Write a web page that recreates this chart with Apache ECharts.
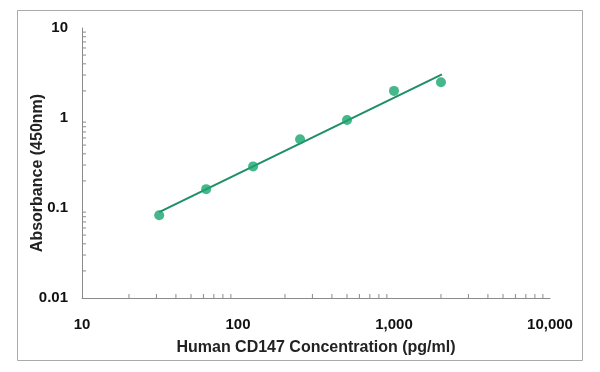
<!DOCTYPE html>
<html><head><meta charset="utf-8">
<script src="https://cdn.jsdelivr.net/npm/echarts@6/dist/echarts.min.js"></script>
<style>html,body{margin:0;padding:0;background:#fff}#c{width:600px;height:372px}</style>
</head><body><div id="c"></div>
<script>
const concentrations = [31.25, 62.5, 125, 250, 500, 1000, 2000];
const absorbance = [0.083, 0.162, 0.29, 0.58, 0.95, 2.0, 2.5];
const fitX = [31.25, 2030];
const fitY = [0.09, 3.05];
const xTickLabels = {10: '10', 100: '100', 1000: '1,000', 10000: '10,000'};
const yTickLabels = {0.01: '0.01', 0.1: '0.1', 1: '1', 10: '10'};
const xMinor = [20,30,40,50,60,70,80,90,200,300,400,500,600,700,800,900,2000,3000,4000,5000,6000,7000,8000,9000];
const yMinor = [0.02,0.03,0.04,0.05,0.06,0.07,0.08,0.09,0.2,0.3,0.4,0.5,0.6,0.7,0.8,0.9,2,3,4,5,6,7,8,9];

const green = '#17a56e';
const lineGreen = '#1e8e66';
const axisColor = '#8a8a8a';
const font = 'Arial, "Liberation Sans", sans-serif';

const chart = echarts.init(document.getElementById('c'), null, {renderer: 'canvas'});
chart.setOption({
  animation: false,
  backgroundColor: '#fff',
  grid: {left: 82, right: 50, top: 28, bottom: 74},
  graphic: [{type: 'rect', shape: {x: 17.5, y: 10.5, width: 565, height: 350}, style: {fill: 'none', stroke: '#aaa', lineWidth: 1}, silent: true}],
  xAxis: {
    type: 'log', logBase: 10, min: 10, max: 10000,
    name: 'Human CD147 Concentration (pg/ml)', nameLocation: 'middle', nameGap: 42,
    nameMoveOverlap: false,
    nameTextStyle: {fontFamily: font, fontWeight: 'bold', fontSize: 16, color: '#222'},
    axisLine: {lineStyle: {color: axisColor, width: 1}},
    axisTick: {show: false},
    splitLine: {show: false},
    axisLabel: {margin: 19, fontFamily: font, fontWeight: 'bold', fontSize: 15, color: '#111',
      formatter: v => xTickLabels[Math.round(v)] || ''}
  },
  yAxis: {
    type: 'log', logBase: 10, min: 0.01, max: 10,
    name: 'Absorbance (450nm)', nameLocation: 'middle', nameGap: 36,
    nameMoveOverlap: false,
    nameTextStyle: {fontFamily: font, fontWeight: 'bold', fontSize: 16, color: '#222', padding: [0, 20, 0, 0]},
    axisLine: {lineStyle: {color: axisColor, width: 1}},
    axisTick: {show: false},
    splitLine: {show: false},
    axisLabel: {margin: 14, fontFamily: font, fontWeight: 'bold', fontSize: 15, color: '#111',
      formatter: v => { for (const k in yTickLabels) { if (Math.abs(Math.log10(v) - Math.log10(+k)) < 1e-6) return yTickLabels[k]; } return ''; }}
  },
  series: [
    {
      type: 'custom', silent: true, z: 1,
      data: xMinor.map(v => [v]),
      renderItem: (params, api) => {
        const p = api.coord([api.value(0), 0.01]);
        return {type: 'line', shape: {x1: p[0], y1: p[1], x2: p[0], y2: p[1] - 4}, style: {stroke: axisColor, lineWidth: 1}};
      }
    },
    {
      type: 'custom', silent: true, z: 1,
      data: yMinor.map(v => [v]),
      renderItem: (params, api) => {
        const p = api.coord([10, api.value(0)]);
        return {type: 'line', shape: {x1: p[0], y1: p[1], x2: p[0] + 4, y2: p[1]}, style: {stroke: axisColor, lineWidth: 1}};
      },
      encode: {x: -1, y: 0}
    },
    {
      type: 'line', data: fitX.map((x, i) => [x, fitY[i]]),
      showSymbol: false, symbol: 'none',
      lineStyle: {color: lineGreen, width: 2}, z: 2
    },
    {
      type: 'scatter', data: concentrations.map((x, i) => [x, absorbance[i]]),
      symbol: 'circle', symbolSize: 10,
      itemStyle: {color: green}, z: 3
    }
  ]
});
</script></body></html>
